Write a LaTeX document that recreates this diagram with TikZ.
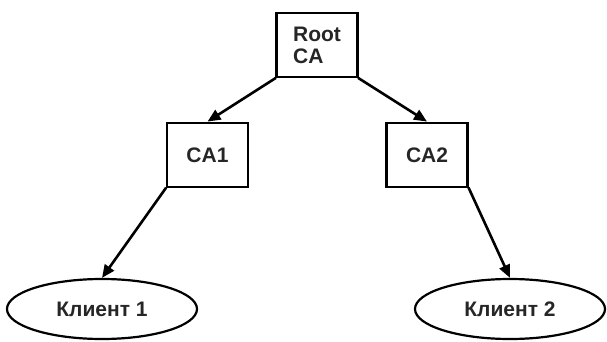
\documentclass[tikz,border=0pt]{standalone}
\usepackage{fontspec}
\setmainfont{Liberation Sans}
\usetikzlibrary{arrows.meta,shapes.geometric}
\tikzset{
  lbl/.style={font=\fontsize{21}{22}\selectfont\bfseries, text=black!85},
  cabox/.style={lbl, draw, line width=2.8pt, minimum width=81pt, minimum height=64pt, inner sep=0pt},
  client/.style={lbl, draw, ellipse, line width=2.2pt, minimum width=190pt, minimum height=60pt, inner sep=0pt},
  link/.style={line width=2.6pt, -{Triangle[length=13pt,width=11pt]}, shorten <=-1pt}
}
\begin{document}
\begin{tikzpicture}[x=1pt,y=-1pt]
  \useasboundingbox (0,0) rectangle (607,342);
  % certificate authorities
  \node[cabox, align=left] (root) at (317,45) {Root\\CA};
  \node[cabox] (ca1) at (207.5,155) {CA1};
  \node[cabox] (ca2) at (427,155) {CA2};
  % clients
  \node[client] (k1) at (102,309) {Клиент 1};
  \node[client] (k2) at (510,309) {Клиент 2};
  % trust chain
  \draw[link] (root.south west) -- (ca1.north);
  \draw[link] (root.south east) -- (ca2.north);
  \draw[link] (ca1.south west) -- (k1.north);
  \draw[link] (ca2.south east) -- (k2.north);
\end{tikzpicture}
\end{document}
